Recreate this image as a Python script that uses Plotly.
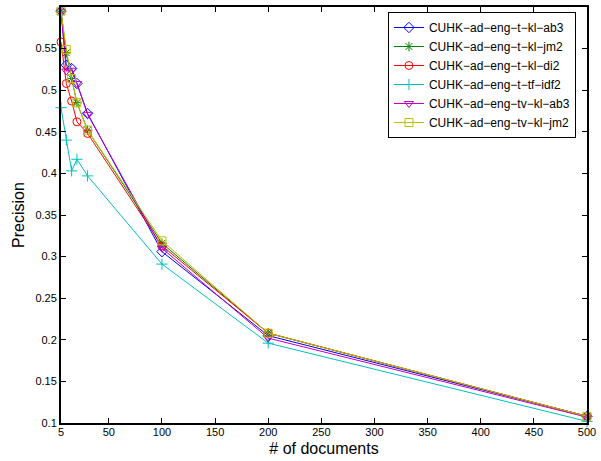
import plotly.graph_objects as go

docs = [5, 10, 15, 20, 30, 100, 200, 500]

t_kl_ab3 = [0.595, 0.530, 0.526, 0.508, 0.472, 0.306, 0.205, 0.108]
t_kl_jm2 = [0.595, 0.545, 0.514, 0.485, 0.452, 0.316, 0.208, 0.108]
t_kl_di2 = [0.558, 0.508, 0.487, 0.462, 0.448, 0.313, 0.208, 0.108]
t_tf_idf2 = [0.479, 0.440, 0.403, 0.417, 0.397, 0.291, 0.196, 0.102]
tv_kl_ab3 = [0.595, 0.523, 0.524, 0.508, 0.471, 0.310, 0.202, 0.107]
tv_kl_jm2 = [0.595, 0.549, 0.514, 0.485, 0.452, 0.319, 0.208, 0.108]

names = ["CUHK\u2212ad\u2212eng\u2212t\u2212kl\u2212ab3",
         "CUHK\u2212ad\u2212eng\u2212t\u2212kl\u2212jm2",
         "CUHK\u2212ad\u2212eng\u2212t\u2212kl\u2212di2",
         "CUHK\u2212ad\u2212eng\u2212t\u2212tf\u2212idf2",
         "CUHK\u2212ad\u2212eng\u2212tv\u2212kl\u2212ab3",
         "CUHK\u2212ad\u2212eng\u2212tv\u2212kl\u2212jm2"]
series = [t_kl_ab3, t_kl_jm2, t_kl_di2, t_tf_idf2, tv_kl_ab3, tv_kl_jm2]
colors = ["rgb(0,0,255)", "rgb(0,128,0)", "rgb(255,0,0)",
          "rgb(0,191,191)", "rgb(191,0,191)", "rgb(191,191,0)"]
symbols = ["diamond-open", "asterisk-open", "circle-open",
           "cross-thin-open", "triangle-down-open", "square-open"]

x_ticks = [5, 50, 100, 150, 200, 250, 300, 350, 400, 450, 500]
y_ticks = [0.1, 0.15, 0.2, 0.25, 0.3, 0.35, 0.4, 0.45, 0.5, 0.55]
y_ticktext = ["0.1", "0.15", "0.2", "0.25", "0.3", "0.35", "0.4", "0.45", "0.5", "0.55"]

fig = go.Figure()
for name, ys, c, s in zip(names, series, colors, symbols):
    fig.add_trace(go.Scatter(
        x=docs, y=ys, name=name, mode="lines+markers",
        line=dict(color=c, width=1),
        marker=dict(symbol=s, size=8, color=c, line=dict(color=c, width=1)),
        cliponaxis=False,
    ))

font = "Liberation Sans, Arial, Helvetica, sans-serif"
fig.update_layout(
    width=601, height=461,
    margin=dict(l=61, r=7, t=5, b=38),
    paper_bgcolor="white", plot_bgcolor="white",
    font=dict(family=font, size=11, color="black"),
    showlegend=True,
    legend=dict(
        x=0.979, y=0.988, xanchor="right", yanchor="top",
        bgcolor="white", bordercolor="black", borderwidth=1,
        font=dict(size=12, family=font), itemwidth=30,
        tracegroupgap=0,
    ),
    xaxis=dict(
        range=[5, 500], tickvals=x_ticks, ticks="inside", ticklen=5,
        tickcolor="black", mirror="ticks", showline=True, linecolor="black",
        linewidth=2, showgrid=False, zeroline=False,
        tickfont=dict(size=11), ticklabeloverflow="allow",
        ticklabelstandoff=-2,
        title=dict(text="# of documents", font=dict(size=16), standoff=6),
    ),
    yaxis=dict(
        range=[0.1, 0.6], tickvals=y_ticks, ticktext=y_ticktext,
        ticks="inside", ticklen=5, tickcolor="black", mirror="ticks",
        showline=True, linecolor="black", linewidth=2, showgrid=False,
        zeroline=False, tickfont=dict(size=11), ticklabeloverflow="allow",
        title=dict(text="Precision", font=dict(size=16), standoff=7),
    ),
)

fig.write_html("out.html", config={"displayModeBar": False},
               post_script="document.body.style.margin='0';")
